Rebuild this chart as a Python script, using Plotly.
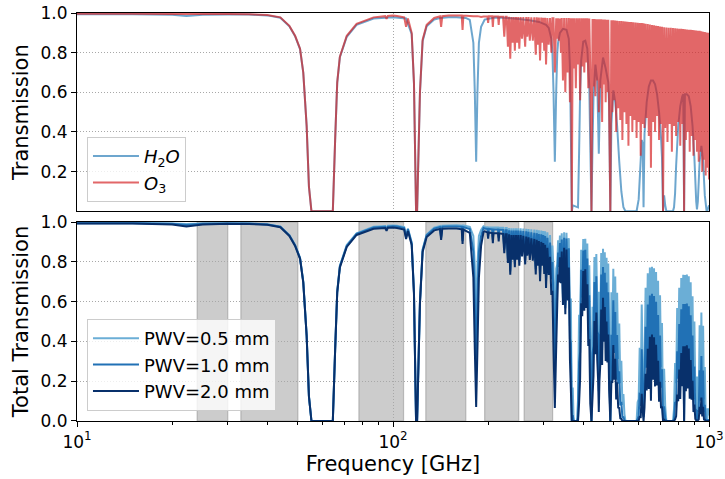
import plotly.graph_objects as go

# ---------------- data ----------------
# Top panel, H2O transmission (PWV = 1 mm, no ozone)
H2O_F = [10, 15, 20, 22.2, 25, 30, 35, 40, 44, 47,
         49, 50.8, 52, 53.3, 54.2, 55.2, 64.5, 65.6, 66.6, 67.9,
         71.4, 76.7, 86.8, 100, 110, 114.6, 116.5, 118.3, 119.2, 121.7,
         124.1, 127.8, 135, 140.8, 150, 159, 170, 175, 179.6, 181.5,
         183.3, 185, 187, 190, 195, 210, 230, 250, 270, 290,
         305, 311, 317, 319.5, 322, 325.2, 328.5, 331, 333, 337.5,
         345, 354, 360, 363, 365.5, 368, 370.5, 385, 388, 391,
         394, 400, 406, 412, 418, 421, 424.7, 428, 431, 437,
         443, 446, 448, 450, 453, 462, 471, 480, 483, 487.2,
         491, 498, 505, 512, 520, 528, 536, 544, 590, 599,
         608, 612.5, 617, 620.7, 625, 635, 645, 655, 665, 675,
         685, 695, 705, 710, 715.4, 721, 727, 733, 769, 775,
         781, 787, 799, 811, 823, 829, 834, 839, 851, 863,
         875, 887, 899, 911, 916, 922, 934, 946, 958, 970,
         982, 987, 1000]
H2O_T = [.994, .994, .991, .985, .991, .993, .992, .988, .976, .933,
         .883, .818, .70, .43, .124, 0, 0, .358, .648, .777,
         .88, .94, .972, .979, .972, .893, .645, 0, 0, .595,
         .858, .933, .967, .975, .978, .978, .975, .965, .85, .60,
         .25, .60, .85, .93, .967, .977, .975, .97, .963, .955,
         .94, .925, .87, .80, .61, .25, .61, .80, .85, .90,
         .92, .915, .87, .73, .39, 0, .03, .02, .29, .60,
         .76, .855, .86, .82, .63, .34, 0, .34, .58, .74,
         .66, .44, .29, .44, .66, .775, .72, .65, .53, 0,
         .44, .61, .55, .43, .25, .10, .02, 0, 0, .06,
         .26, .36, .34, .02, .39, .55, .63, .66, .66, .64,
         .59, .50, .37, .27, 0, .08, .03, 0, 0, .02,
         .09, .23, .43, .53, .58, .59, 0, .59, .59, .58,
         .53, .43, .27, .05, .01, .05, .25, .33, .25, .08,
         .005, 0, .03]

# Shared frequency grid for the O3 curve and the three PWV curves
F_LO = [10, 15, 20, 22.2, 25, 30, 35, 40, 44, 47,
        49, 50.8, 52, 53.3, 54.2, 55.2, 64.5, 65.6, 66.6, 67.9,
        71.4, 76.7, 86.8, 94.5, 95.4, 96.3, 100, 103, 108.5, 110,
        111.5, 114.6, 116.5, 118.3, 119.2, 121.7, 124.1, 127.8, 135, 140.8,
        142, 143.2, 150, 159, 165, 166, 167, 175, 179.6, 181.5,
        183.3, 185, 187, 190, 193.4]
F_MID = [195, 199, 200, 201, 206, 207, 208, 215, 216, 217,
         223, 225, 227, 229, 231, 233, 235, 237, 239, 241,
         243, 245, 247, 249, 251, 253.5, 256, 258.5, 262, 264,
         266, 268.5, 271, 274, 277, 280, 283, 285, 287, 289.5,
         292, 294.5, 297, 299, 301, 303, 305, 308, 311, 314,
         317, 319.5, 322, 325.2, 328.5, 331, 333, 335, 337.5, 340]
F_HI = [342, 345, 348, 351, 354, 357, 360, 363, 365.5, 368,
        370.5, 373, 376, 379, 382, 385, 388, 391, 394, 397,
        400, 403, 406, 409, 412, 415, 418, 421, 424.7, 428,
        431, 434, 437, 440, 443, 446, 448, 450, 453, 456,
        459, 462, 465, 468, 471, 474, 477, 480, 483, 487.2,
        491, 494.5, 498, 501.5, 505, 508.5, 512, 516, 520, 524,
        528, 532, 536, 540, 544, 548, 552, 556, 560, 564,
        568, 572, 576.5, 581, 585.5, 590, 594.5, 599, 603.5, 608,
        612.5, 617, 620.7, 625, 630, 635, 640, 645, 650, 655,
        660, 665, 670, 675, 680, 685, 690, 695, 700, 705,
        710, 715.4, 721, 727, 733, 739, 745, 751, 757, 763,
        769, 775, 781, 787, 793, 799, 805, 811, 817, 823,
        829, 834, 839, 845, 851, 857, 863, 869, 875, 881,
        887, 893, 899, 905, 911, 916, 922, 928, 934, 940,
        946, 952, 958, 964, 970, 976, 982, 987, 993, 1000]

# O3 (plus dry) transmission, top panel
O3_LO = [.996, .996, .995, .995, .995, .995, .994, .99, .978, .935,
         .885, .82, .70, .43, .125, 0, 0, .36, .65, .78,
         .885, .945, .978, .984, .97, .985, .987, .985, .978, .93,
         .972, .90, .65, 0, 0, .60, .865, .94, .975, .983,
         .93, .984, .987, .988, .987, .915, .987, .985, .984, .984,
         .984, .984, .983, .98, .982]
O3_MID = [.982, .983, .95, .983, .983, .93, .982, .982, .94, .982,
          .981, .88, .981, .981, .83, .981, .77, .98, .85, .98,
          .81, .98, .85, .98, .82, .98, .87, .979, .83, .979,
          .88, .979, .86, .978, .86, .978, .79, .978, .84, .977,
          .76, .977, .85, .976, .81, .976, .74, .975, .84, .975,
          .80, .974, .974, .70, .973, .87, .973, .86, .972, .80]
O3_HI = [.975, .66, .975, .60, .975, .70, .975, .55, .974, 0,
         .974, .72, .974, .62, .974, .74, .974, .56, .974, .73,
         .974, .70, .973, .75, .973, .62, .972, .71, 0, .97,
         .63, .97, .58, .969, .66, .969, .50, .968, .62, .968,
         .45, .967, .64, .967, .55, .966, .60, .966, .52, 0,
         .964, .50, .963, .56, .962, .40, .961, .52, .96, .46,
         .959, .36, .958, .50, .957, .44, .956, .33, .955, .48,
         .954, .40, .953, .46, .952, .37, .951, .45, .95, .28,
         .949, .44, .948, .42, .946, .47, .944, .38, .942, .22,
         .94, .45, .938, .40, .936, .48, .934, .36, .932, .44,
         .93, 0, .928, .42, .927, .35, .926, .44, .925, .30,
         .924, .43, .923, .38, .922, .45, .921, .33, .92, .44,
         .919, 0, .918, .36, .917, .40, .916, .30, .915, .38,
         .914, .28, .913, .36, .912, .30, .911, .25, .91, .30,
         .908, .20, .906, .26, .904, .18, .902, .22, .90, .16]

# Total transmission, PWV = 0.5 mm
P05_LO = [.995, .995, .993, .99, .993, .994, .993, .989, .977, .934,
          .884, .82, .70, .43, .125, 0, 0, .36, .65, .78,
          .884, .943, .976, .98, .966, .981, .983, .981, .974, .926,
          .968, .897, .648, 0, 0, .598, .862, .937, .972, .98,
          .927, .981, .983, .984, .982, .91, .982, .975, .93, .78,
          .50, .78, .93, .96, .978]
P05_MID = [.975, .974, .941, .974, .973, .921, .972, .972, .931, .972,
           .971, .871, .970, .970, .821, .970, .761, .969, .840, .969,
           .801, .969, .840, .969, .810, .968, .859, .967, .819, .966,
           .868, .965, .847, .963, .846, .962, .776, .961, .825, .958,
           .745, .957, .832, .955, .792, .953, .721, .948, .812, .935,
           .755, .882, .767, .50, .766, .788, .908, .816, .932, .772]
P05_HI = [.943, .640, .948, .583, .946, .675, .919, .476, .616, 0,
          .168, 0, 0, 0, 0, .104, .534, .441, .860, .673,
          .914, .660, .916, .700, .892, .547, .783, .420, 0, .574,
          .488, .824, .506, .839, .545, .650, .274, .650, .512, .844,
          .400, .865, .569, .848, .473, .820, .502, .791, .386, 0,
          .647, .394, .765, .437, .726, .288, .645, .312, .490, .190,
          .303, .081, .135, .035, 0, 0, 0, 0, 0, 0,
          0, 0, 0, 0, 0, 0, .095, .110, .368, .146,
          .585, .260, .10, .265, .669, .355, .743, .306, .771, .181,
          .775, .371, .768, .325, .749, .375, .705, .260, .632, .271,
          .492, 0, .263, .073, 0, 0, 0, 0, 0, 0,
          0, .061, .292, .190, .568, .309, .670, .251, .719, .349,
          .735, 0, .734, .289, .736, .320, .727, .234, .697, .277,
          .627, .177, .500, .148, .223, .030, .223, .106, .481, .175,
          .545, .117, .479, .110, .271, .031, .064, 0, .064, .028]

# Total transmission, PWV = 1.0 mm
P10_LO = [.994, .994, .991, .985, .991, .993, .992, .988, .976, .933,
          .883, .818, .70, .43, .124, 0, 0, .358, .648, .777,
          .88, .94, .972, .976, .962, .977, .979, .977, .97, .922,
          .964, .893, .645, 0, 0, .595, .858, .933, .967, .975,
          .922, .976, .978, .978, .976, .905, .975, .965, .85, .60,
          .25, .60, .85, .93, .97]
P10_MID = [.967, .965, .933, .965, .963, .911, .962, .962, .921, .962,
           .960, .862, .959, .959, .812, .959, .752, .957, .830, .957,
           .791, .957, .830, .957, .800, .956, .848, .955, .808, .953,
           .855, .951, .834, .948, .832, .946, .763, .944, .810, .940,
           .730, .938, .814, .934, .774, .930, .703, .921, .785, .897,
           .712, .799, .604, .25, .603, .713, .847, .774, .894, .744]
P10_HI = [.912, .620, .921, .567, .917, .651, .868, .413, .390, 0,
          .029, 0, 0, 0, 0, .015, .292, .347, .760, .621,
          .857, .623, .861, .653, .817, .484, .632, .249, 0, .340,
          .378, .698, .441, .727, .449, .436, .150, .436, .422, .736,
          .356, .774, .506, .745, .407, .696, .420, .647, .286, 0,
          .434, .310, .607, .342, .548, .208, .432, .187, .250, .078,
          .096, .018, .019, .003, 0, 0, 0, 0, 0, 0,
          0, 0, 0, 0, 0, 0, .010, .027, .143, .076,
          .361, .154, .02, .168, .473, .268, .585, .247, .631, .150,
          .639, .306, .628, .264, .599, .293, .532, .187, .429, .167,
          .260, 0, .074, .013, 0, 0, 0, 0, 0, 0,
          0, .009, .092, .095, .350, .212, .488, .191, .561, .277,
          .588, 0, .588, .232, .591, .256, .577, .183, .531, .201,
          .430, .112, .274, .061, .055, .003, .055, .045, .255, .102,
          .327, .068, .254, .047, .081, .005, .005, 0, .005, .005]

# Total transmission, PWV = 2.0 mm
P20_LO = [.993, .993, .988, .978, .988, .991, .99, .986, .974, .93,
          .88, .815, .695, .428, .123, 0, 0, .355, .645, .772,
          .875, .935, .966, .97, .956, .971, .972, .97, .962, .915,
          .955, .885, .64, 0, 0, .59, .85, .925, .958, .965,
          .91, .966, .968, .967, .963, .89, .962, .945, .72, .36,
          .07, .36, .72, .88, .95]
P20_MID = [.953, .948, .916, .948, .944, .893, .943, .943, .903, .943,
           .940, .843, .938, .938, .794, .938, .735, .935, .811, .935,
           .773, .935, .811, .935, .781, .934, .827, .931, .787, .927,
           .831, .923, .809, .918, .806, .915, .737, .911, .781, .904,
           .702, .900, .780, .894, .739, .886, .668, .871, .734, .825,
           .634, .655, .374, .065, .374, .585, .736, .697, .823, .692]
P20_HI = [.852, .583, .871, .536, .862, .606, .772, .309, .156, 0,
          .001, 0, 0, 0, 0, 0, .088, .215, .592, .527,
          .754, .554, .762, .568, .687, .377, .411, .087, 0, .119,
          .227, .502, .335, .545, .305, .196, .045, .196, .286, .560,
          .281, .619, .399, .573, .301, .500, .294, .434, .157, 0,
          .195, .192, .382, .208, .313, .108, .195, .067, .065, .013,
          .010, .001, 0, 0, 0, 0, 0, 0, 0, 0,
          0, 0, 0, 0, 0, 0, 0, .002, .021, .020,
          .137, .054, 0, .067, .237, .153, .363, .161, .423, .102,
          .435, .208, .421, .174, .383, .179, .303, .097, .197, .064,
          .073, 0, .006, 0, 0, 0, 0, 0, 0, 0,
          0, 0, .009, .024, .133, .099, .259, .111, .342, .175,
          .376, 0, .376, .150, .381, .164, .364, .112, .307, .107,
          .202, .045, .082, .010, .003, 0, .003, .008, .071, .035,
          .118, .023, .071, .008, .007, 0, 0, 0, 0, 0]

# Observing bands (GHz), shaded in the lower panel
BAND_LO = [24, 33, 78, 127, 195, 260]
BAND_HI = [30, 50, 108, 170, 250, 320]

PWV_LABELS = ["PWV=0.5 mm", "PWV=1.0 mm", "PWV=2.0 mm"]
Y_TICKS_TOP = [0.2, 0.4, 0.6, 0.8, 1.0]
Y_TICKS_BOT = [0.0, 0.2, 0.4, 0.6, 0.8, 1.0]
X_TICKS = [10, 100, 1000]
X_TICKTEXT = ["10<sup>1</sup>", "10<sup>2</sup>", "10<sup>3</sup>"]
X_MINOR = [20, 30, 40, 50, 60, 70, 80, 90, 200, 300, 400, 500, 600, 700, 800, 900]

# ---------------- assemble ----------------
FREQ = F_LO + F_MID + F_HI
O3 = O3_LO + O3_MID + O3_HI
P05 = P05_LO + P05_MID + P05_HI
P10 = P10_LO + P10_MID + P10_HI
P20 = P20_LO + P20_MID + P20_HI
for nm, arr in [("O3", O3), ("P05", P05), ("P10", P10), ("P20", P20)]:
    assert len(arr) == len(FREQ), (nm, len(arr), len(FREQ))
assert len(H2O_F) == len(H2O_T), (len(H2O_F), len(H2O_T))

C_H2O = "rgba(31,119,180,0.65)"
C_O3 = "rgba(214,39,40,0.7)"
C_PWV = ["#6baed6", "#2171b5", "#08306b"]
GRID = "#a8a8a8"
FONT = "DejaVu Sans"

fig = go.Figure()
fig.add_trace(go.Scatter(x=H2O_F, y=H2O_T, mode="lines",
                         name="<i>H</i><sub>2</sub><i>O</i>",
                         line=dict(color=C_H2O, width=2, simplify=False),
                         xaxis="x", yaxis="y", legend="legend"))
fig.add_trace(go.Scatter(x=FREQ, y=O3, mode="lines",
                         name="<i>O</i><sub>3</sub>",
                         line=dict(color=C_O3, width=2, simplify=False),
                         xaxis="x", yaxis="y", legend="legend"))
for lab, arr, col in zip(PWV_LABELS, [P05, P10, P20], C_PWV):
    fig.add_trace(go.Scatter(x=FREQ, y=arr, mode="lines", name=lab,
                             line=dict(color=col, width=2, simplify=False),
                             xaxis="x2", yaxis="y2", legend="legend2"))

for lo, hi in zip(BAND_LO, BAND_HI):
    fig.add_shape(type="rect", xref="x2", yref="y2 domain", x0=lo, x1=hi, y0=0, y1=1,
                  fillcolor="rgba(128,128,128,0.4)",
                  line=dict(color="rgba(128,128,128,0.45)", width=1.2), layer="below")

axis_common = dict(showline=True, mirror=True, linecolor="black", linewidth=1.2,
                   zeroline=False, showgrid=True, gridcolor=GRID, griddash="1px,2px",
                   gridwidth=1, automargin=False)

legend_common = dict(xanchor="left", yanchor="bottom",
                     bgcolor="rgba(255,255,255,0.8)", bordercolor="#cccccc", borderwidth=1,
                     font=dict(size=18, family=FONT), traceorder="normal", itemwidth=46)

fig.update_layout(
    template="none",
    width=725, height=479,
    margin=dict(l=77, r=16, t=13, b=58),
    paper_bgcolor="white", plot_bgcolor="white",
    font=dict(family=FONT, size=17, color="black"),
    xaxis=dict(domain=[0, 1], anchor="y", type="log", range=[1, 3],
               tickvals=X_TICKS, showticklabels=False, ticks="", **axis_common),
    yaxis=dict(domain=[0.514, 1], anchor="x", range=[0, 1],
               tickvals=Y_TICKS_TOP, ticktext=["%.1f" % v for v in Y_TICKS_TOP],
               ticks="outside", ticklen=5, tickwidth=1.2, tickcolor="black",
               title=dict(text="Transmission", font=dict(size=21), standoff=6),
               **axis_common),
    xaxis2=dict(domain=[0, 1], anchor="y2", type="log", range=[1, 3],
                tickvals=X_TICKS, ticktext=X_TICKTEXT,
                ticks="outside", ticklen=5, tickwidth=1.2, tickcolor="black",
                minor=dict(tickvals=X_MINOR, ticks="outside", ticklen=3, tickwidth=1,
                           tickcolor="black", showgrid=False),
                title=dict(text="Frequency [GHz]", font=dict(size=21), standoff=5),
                **axis_common),
    yaxis2=dict(domain=[0, 0.4877], anchor="x2", range=[0, 1],
                tickvals=Y_TICKS_BOT, ticktext=["%.1f" % v for v in Y_TICKS_BOT],
                ticks="outside", ticklen=5, tickwidth=1.2, tickcolor="black",
                title=dict(text="Total Transmission", font=dict(size=21), standoff=6),
                **axis_common),
    legend=dict(x=0.0158, y=0.537, **legend_common),
    legend2=dict(x=0.0158, y=0.0245, **legend_common),
    showlegend=True,
)

# remove the browser's default 8 px body margin so the 725x479 figure fills the window
fig.write_html("out.html",
               config={"displayModeBar": False},
               post_script="document.body.style.margin='0';document.body.style.overflow='hidden';")
